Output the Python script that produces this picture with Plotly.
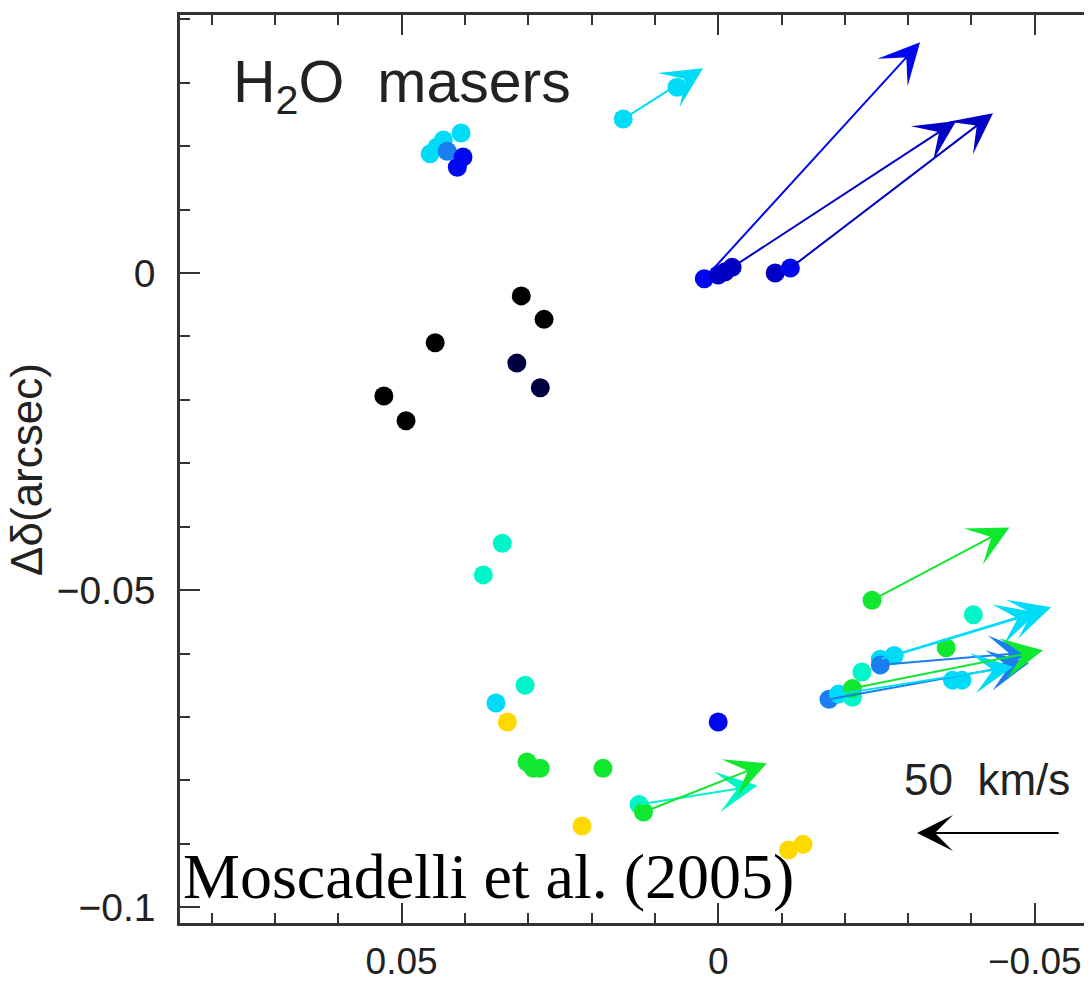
import plotly.graph_objects as go

# ---- maser positions (arcsec offsets) and velocity groups ----
ra = [0.0455, 0.0444, 0.0434, 0.0406, 0.0428, 0.0403, 0.0412,
      0.0150, 0.0065,
      0.0022, 0.0000, -0.0011, -0.0022, -0.0090, -0.0114,
      0.0311, 0.0275, 0.0447, 0.0528, 0.0493,
      0.0318, 0.0281,
      0.0341, 0.0371, 0.0305, 0.0351, 0.0333, 0.0000,
      0.0302, 0.0292, 0.0281, 0.0182,
      0.0125, 0.0118, 0.0215, -0.0111, -0.0134,
      -0.0243, -0.0403, -0.0360, -0.0278, -0.0256, -0.0256, -0.0227,
      -0.0370, -0.0385, -0.0175, -0.0190, -0.0212, -0.0212]
dec = [0.0188, 0.0199, 0.0210, 0.0221, 0.0192, 0.0183, 0.0167,
       0.0243, 0.0293,
       -0.0009, -0.0003, 0.0002, 0.0009, 0.0000, 0.0008,
       -0.0036, -0.0073, -0.0110, -0.0194, -0.0233,
       -0.0142, -0.0181,
       -0.0426, -0.0476, -0.0650, -0.0678, -0.0708, -0.0708,
       -0.0771, -0.0781, -0.0781, -0.0781,
       -0.0838, -0.0850, -0.0872, -0.0910, -0.0901,
       -0.0516, -0.0539, -0.0591, -0.0603, -0.0609, -0.0618, -0.0629,
       -0.0642, -0.0642, -0.0672, -0.0664, -0.0669, -0.0655]
grp = ["cyan", "cyan", "cyan", "cyan", "dodger", "blue", "blue",
       "cyan", "cyan",
       "blue", "darkblue", "darkblue", "darkblue", "darkblue", "blue",
       "black", "black", "black", "black", "black",
       "navy", "navy",
       "aqua", "aqua", "aqua", "cyan", "yellow", "blue",
       "green", "green", "green", "green",
       "aqua", "green", "yellow", "yellow", "yellow",
       "green", "aqua", "green", "cyan", "cyan", "dodger", "aqua",
       "cyan", "cyan", "dodger", "cyan", "aqua", "green"]

# ---- proper motions (origin offsets, velocity in km/s) ----
pm_ra = [0.0150, 0.0022, -0.0022, -0.0114, 0.0125, 0.0118,
         -0.0243, -0.0278, -0.0256, -0.0256, -0.0175, -0.0190, -0.0212]
pm_dec = [0.0243, -0.0009, 0.0009, 0.0008, -0.0838, -0.0850,
          -0.0516, -0.0603, -0.0609, -0.0618, -0.0672, -0.0664, -0.0655]
pm_vra = [-27.9, -75.4, -78.3, -70.8, -41.4, -43.1,
          -48.0, -50.0, -59.7, -52.4, -69.9, -61.0, -66.6]
pm_vdec = [17.7, 82.5, 51.1, 54.0, 6.6, 17.0,
           25.4, 15.0, 18.1, 4.4, 12.6, 9.5, 13.3]
pm_grp = ["cyan", "blue", "darkblue", "darkblue", "aqua", "green",
          "green", "cyan", "cyan", "dodger", "dodger", "cyan", "green"]

# scale bar: 50 km/s
scale_v = 50.0
scale_ra = -0.0540
scale_dec = -0.0883
KMS_PER_ARCSEC = 50.0 / 0.0226

x_ticks = [0.05, 0.0, -0.05]
y_ticks = [0.0, -0.05, -0.1]

COLORS = {
    "black": "#000000",
    "navy": "#000040",
    "blue": "#0008ee",
    "darkblue": "#0000c4",
    "dodger": "#1a7ef0",
    "cyan": "#00dcf8",
    "aqua": "#00f5c8",
    "green": "#10e830",
    "yellow": "#ffd800",
}

fig = go.Figure()
fig.add_trace(go.Scatter(
    x=ra, y=dec, mode="markers",
    marker=dict(size=19, color=[COLORS[g] for g in grp], line=dict(width=0)),
    showlegend=False, hoverinfo="skip"))

for x0, y0, vx, vy, g in zip(pm_ra, pm_dec, pm_vra, pm_vdec, pm_grp):
    fig.add_annotation(
        x=x0 + vx / KMS_PER_ARCSEC, y=y0 + vy / KMS_PER_ARCSEC,
        ax=x0, ay=y0, xref="x", yref="y", axref="x", ayref="y",
        text="", showarrow=True, arrowhead=3, arrowsize=3.4, arrowwidth=2,
        arrowcolor=COLORS[g], standoff=0, startstandoff=0)

# scale arrow
fig.add_annotation(
    x=scale_ra + scale_v / KMS_PER_ARCSEC, y=scale_dec,
    ax=scale_ra, ay=scale_dec, xref="x", yref="y", axref="x", ayref="y",
    text="", showarrow=True, arrowhead=3, arrowsize=3.0, arrowwidth=2,
    arrowcolor="#000000", standoff=0, startstandoff=0)

sans = "Liberation Sans, Arial, sans-serif"
fig.add_annotation(
    x=scale_ra + 0.5 * scale_v / KMS_PER_ARCSEC + 0.0003, y=-0.0799,
    xref="x", yref="y", text="50  km/s", showarrow=False,
    font=dict(family=sans, size=44, color="#222222"),
    xanchor="center", yanchor="middle")

fig.add_annotation(
    x=0.0554, y=0.965, xref="paper", yref="paper",
    text="H<sub>2</sub>O  masers", showarrow=False,
    font=dict(family=sans, size=59, color="#222222"),
    xanchor="left", yanchor="top")

fig.add_annotation(
    x=0.001, y=0.051, xref="paper", yref="paper",
    text="Moscadelli et al. (2005)", showarrow=False,
    font=dict(family="Liberation Serif, Times New Roman, serif", size=64, color="#000000"),
    xanchor="left", yanchor="middle")

fig.add_annotation(
    x=-0.1675, y=0.5, xref="paper", yref="paper",
    text="Δδ(arcsec)", showarrow=False, textangle=-90,
    font=dict(family=sans, size=44, color="#222222"),
    xanchor="center", yanchor="middle")

axis_common = dict(
    showgrid=False, zeroline=False, showline=True, linecolor="#333333",
    linewidth=2.5, ticks="inside", ticklen=20, tickwidth=2, tickcolor="#333333",
    automargin=False,
)

fig.update_xaxes(
    **axis_common, range=[0.0850, -0.0603], tickvals=x_ticks, mirror="ticks",
    tickfont=dict(family=sans, size=37, color="#222222"),
    minor=dict(dtick=0.01, tick0=0, ticklen=10, tickwidth=2, tickcolor="#333333", ticks="inside"),
    ticklabelstandoff=4)
fig.update_yaxes(
    **axis_common, range=[-0.1025, 0.0407], tickvals=y_ticks, mirror=False,
    tickfont=dict(family=sans, size=39, color="#222222"),
    minor=dict(dtick=0.01, tick0=0, ticklen=10, tickwidth=2, tickcolor="#333333", ticks="inside"),
    ticklabelstandoff=14)

fig.update_layout(
    width=1092, height=981,
    margin=dict(l=172, r=0, t=7, b=66),
    paper_bgcolor="white", plot_bgcolor="white",
    showlegend=False,
)

fig.write_html(
    "out.html",
    post_script="document.documentElement.style.overflow='hidden';"
                "document.body.style.overflow='hidden';")
